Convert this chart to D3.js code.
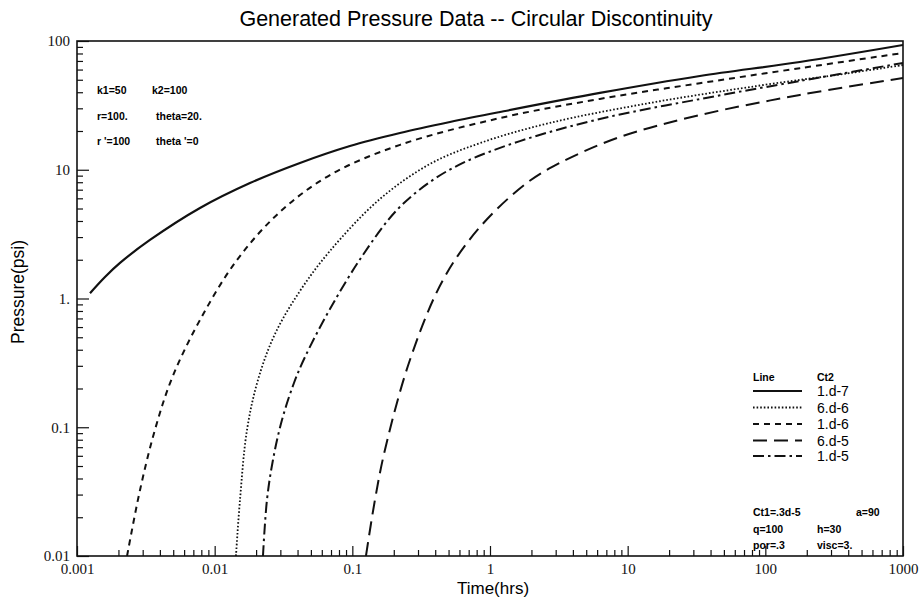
<!DOCTYPE html>
<html>
<head>
<meta charset="utf-8">
<script src="https://cdn.jsdelivr.net/npm/d3@7"></script>
<style>
  body { margin: 0; background: #fff; }
  svg { display: block; }
</style>
</head>
<body>
<svg id="chart" width="921" height="601"></svg>
<script>
// time (hrs) samples per curve, pressure (psi)
const timeSolid = [0.001243, 0.001597, 0.002053, 0.003389, 0.007822, 0.01805, 0.04165, 0.09607, 0.2217, 0.5117, 1.18, 6.283, 33.45, 178, 1000];
const presSolid = [1.10, 1.47, 1.89, 2.85, 5.05, 7.89, 11.3, 15.3, 19.3, 23.5, 28.1, 39.5, 53.5, 68.7, 93.1];

const timeShort = [0.00231, 0.00287, 0.00368, 0.0049, 0.00782, 0.01452, 0.0298, 0.0688, 0.222, 1.18, 6.28, 33.4, 178, 1000];
const presShort = [0.01, 0.0326, 0.0952, 0.241, 0.681, 1.99, 4.70, 9.10, 15.6, 25.2, 35.5, 47.0, 61.5, 80.7];

const timeDot = [0.01428, 0.01527, 0.01717, 0.02063, 0.02741, 0.04165, 0.06877, 0.1587, 0.3661, 0.8449, 2.723, 14.5, 77.16, 410.8, 1000];
const presDot = [0.01, 0.0272, 0.0952, 0.233, 0.53, 1.144, 2.34, 5.93, 11.08, 16.1, 23.1, 33.0, 43.9, 56.4, 65.1];

const timeDashDot = [0.02243, 0.02398, 0.02651, 0.03082, 0.03767, 0.04529, 0.06877, 0.1194, 0.2109, 0.3661, 0.6359, 1.649, 6.283, 33.45, 178, 1000];
const presDashDot = [0.01, 0.0272, 0.0557, 0.1138, 0.2207, 0.351, 0.829, 2.18, 4.87, 8.03, 11.3, 16.7, 24.8, 35.4, 48.9, 67.5];

const timeLong = [0.1256, 0.1459, 0.1725, 0.262, 0.455, 0.8449, 1.854, 3.218, 8.78, 33.45, 178, 1000];
const presLong = [0.01, 0.0272, 0.0666, 0.333, 1.39, 3.59, 7.9, 11.3, 17.96, 26.6, 38.1, 51.6];

// legend order as in the picture
const legendLabels = ["1.d-7", "6.d-6", "1.d-6", "6.d-5", "1.d-5"];

const xTickValues = [0.001, 0.01, 0.1, 1, 10, 100, 1000];
const xTickLabels = ["0.001", "0.01", "0.1", "1", "10", "100", "1000"];
const yTickValues = [0.01, 0.1, 1, 10, 100];
const yTickLabels = ["0.01", "0.1", "1.", "10", "100"];

const notesTop = [["k1=50", "k2=100"], ["r=100.", "theta=20."], ["r '=100", "theta '=0"]];
const notesBottom = [["Ct1=.3d-5", "a=90"], ["q=100", "h=30"], ["por=.3", "visc=3."]];

const svg = d3.select("#chart");
const plotL = 77, plotR = 903, plotT = 41, plotB = 556;

const x = d3.scaleLog().domain([0.001, 1000]).range([plotL, plotR]);
const y = d3.scaleLog().domain([0.01, 100]).range([plotB, plotT]);

// minor ticks 2..9 in each decade
function minors(lo, hi) {
  let out = [];
  for (let d = lo; d < hi * 0.99; d *= 10) {
    for (let k = 2; k <= 9; k++) out.push(d * k);
  }
  return out;
}

svg.append("defs").append("clipPath").attr("id", "plotclip")
  .append("rect").attr("x", plotL).attr("y", plotT - 2)
  .attr("width", plotR - plotL).attr("height", plotB - plotT + 2);

// bottom axis
const xMajor = d3.axisBottom(x).tickValues(xTickValues)
  .tickFormat((d, i) => xTickLabels[i]).tickSize(-10).tickPadding(7);
const xMinor = d3.axisBottom(x).tickValues(minors(0.001, 1000))
  .tickFormat("").tickSize(-6);
const gx = svg.append("g").attr("transform", "translate(0," + plotB + ")");
gx.call(xMinor);
gx.append("g").call(xMajor);

// left axis
const yMajor = d3.axisLeft(y).tickValues(yTickValues)
  .tickFormat((d, i) => yTickLabels[i]).tickSize(-12).tickPadding(7);
const yMinor = d3.axisLeft(y).tickValues(minors(0.01, 100))
  .tickFormat("").tickSize(-6);
const gy = svg.append("g").attr("transform", "translate(" + plotL + ",0)");
gy.call(yMinor);
gy.append("g").call(yMajor);

svg.selectAll(".domain").remove();
svg.selectAll(".tick line").attr("stroke", "#111").attr("stroke-width", 1.2);
svg.selectAll(".tick text")
  .style("font-family", "'Liberation Serif', 'Times New Roman', serif")
  .style("font-size", "15px").attr("fill", "#111");

// frame
svg.append("rect")
  .attr("x", plotL).attr("y", plotT)
  .attr("width", plotR - plotL).attr("height", plotB - plotT)
  .attr("fill", "none").attr("stroke", "#111").attr("stroke-width", 1.6);

const series = [
  { t: timeSolid, p: presSolid, dash: null, w: 2.2 },
  { t: timeDot, p: presDot, dash: "1.6,2", w: 1.8 },
  { t: timeShort, p: presShort, dash: "6,5", w: 2 },
  { t: timeLong, p: presLong, dash: "14,7", w: 2 },
  { t: timeDashDot, p: presDashDot, dash: "11,4,2.5,4", w: 2 }
];

const line = d3.line()
  .x(d => x(d[0]))
  .y(d => y(d[1]))
  .curve(d3.curveCatmullRom.alpha(0.5));

const plot = svg.append("g").attr("clip-path", "url(#plotclip)");
series.forEach(s => {
  const pts = s.t.map((t, i) => [t, s.p[i]]);
  plot.append("path")
    .datum(pts)
    .attr("d", line)
    .attr("fill", "none")
    .attr("stroke", "#111")
    .attr("stroke-width", s.w)
    .attr("stroke-dasharray", s.dash);
});

// titles
svg.append("text")
  .attr("x", 476).attr("y", 26)
  .attr("text-anchor", "middle")
  .style("font-family", "'Liberation Sans', Arial, sans-serif")
  .style("font-size", "21.5px")
  .text("Generated Pressure Data -- Circular Discontinuity");

svg.append("text")
  .attr("x", 493).attr("y", 594)
  .attr("text-anchor", "middle")
  .style("font-family", "'Liberation Sans', Arial, sans-serif")
  .style("font-size", "17px")
  .text("Time(hrs)");

svg.append("text")
  .attr("transform", "translate(24,292) rotate(-90)")
  .attr("text-anchor", "middle")
  .style("font-family", "'Liberation Sans', Arial, sans-serif")
  .style("font-size", "17.5px")
  .text("Pressure(psi)");

// small notes
const noteFont = g => g.style("font-family", "'Liberation Sans', Arial, sans-serif")
  .style("font-size", "10.5px").style("font-weight", "bold");

const topNotes = svg.append("g").call(noteFont);
notesTop.forEach((row, i) => {
  topNotes.append("text").attr("x", 97).attr("y", 94 + i * 25.5).text(row[0]);
  topNotes.append("text").attr("x", i === 0 ? 152 : 156).attr("y", 94 + i * 25.5).text(row[1]);
});

const botNotes = svg.append("g").call(noteFont);
notesBottom.forEach((row, i) => {
  botNotes.append("text").attr("x", 753).attr("y", 516 + i * 16.5).text(row[0]);
  botNotes.append("text").attr("x", i === 0 ? 856 : 817).attr("y", 516 + i * 16.5).text(row[1]);
});

// legend
const lg = svg.append("g");
lg.append("text").attr("x", 753).attr("y", 381).text("Line").call(noteFont);
lg.append("text").attr("x", 817).attr("y", 381).text("Ct2").call(noteFont);
const legendY = [391, 407.5, 424, 440.5, 456];
legendLabels.forEach((lab, i) => {
  const s = series[i];
  lg.append("line")
    .attr("x1", 753).attr("x2", 802)
    .attr("y1", legendY[i]).attr("y2", legendY[i])
    .attr("stroke", "#111").attr("stroke-width", s.w)
    .attr("stroke-dasharray", s.dash);
  lg.append("text")
    .attr("x", 817).attr("y", legendY[i] + 5)
    .style("font-family", "'Liberation Sans', Arial, sans-serif")
    .style("font-size", "14px")
    .text(lab);
});
</script>
</body>
</html>
